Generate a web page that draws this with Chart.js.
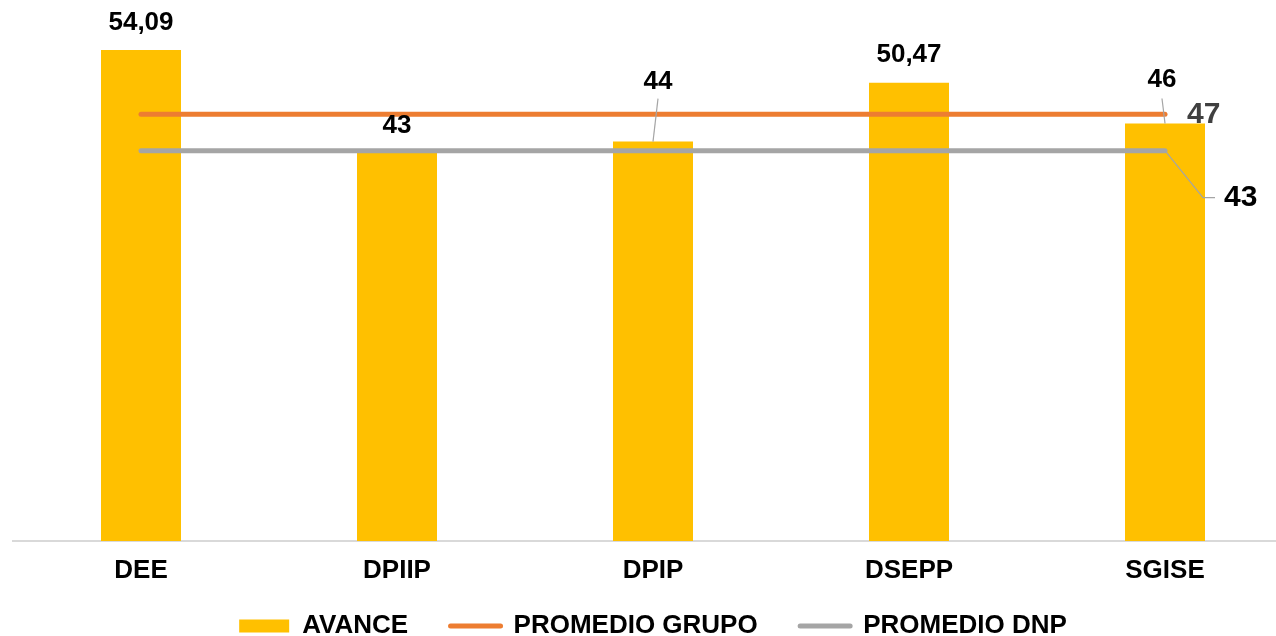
<!DOCTYPE html>
<html>
<head>
<meta charset="utf-8">
<script src="https://cdn.jsdelivr.net/npm/chart.js@4.4.1/dist/chart.umd.min.js"></script>
<style>
  html, body { margin: 0; padding: 0; background: #fff; overflow: hidden; }
  #wrap { width: 1300px; height: 649px; }
</style>
</head>
<body>
<div id="wrap"><canvas id="chart" width="1300" height="649"></canvas></div>
<script>
const categories = ['DEE', 'DPIIP', 'DPIP', 'DSEPP', 'SGISE'];
const avance = [54.09, 43, 44, 50.47, 46];
const promedioGrupo = [47, 47, 47, 47, 47];
const promedioDnp = [43, 43, 43, 43, 43];
const seriesNames = ['AVANCE', 'PROMEDIO GRUPO', 'PROMEDIO DNP'];

const YELLOW = '#FFC000';
const ORANGE = '#ED7D31';
const GRAY = '#A5A5A5';
const FONT = "'Liberation Sans', Arial, sans-serif";

// label offsets from the top of each bar, in px
const barLabelPos = [
    { dx: 0, dy: 27 },
    { dx: 0, dy: 25 },
    { dx: 5, dy: 60, leader: 17 },
    { dx: 0, dy: 28 },
    { dx: -3, dy: 44, leader: 19 }
];

const fmt = v => String(v).replace('.', ',');

// value labels above the bars, plus the two end labels of the average lines
const valueLabels = {
    id: 'valueLabels',
    afterDatasetsDraw(chart) {
        const ctx = chart.ctx;
        ctx.save();
        ctx.textAlign = 'center';
        ctx.textBaseline = 'middle';
        ctx.font = 'bold 26px ' + FONT;

        chart.getDatasetMeta(0).data.forEach((bar, i) => {
            const p = barLabelPos[i];
            const x = bar.x + p.dx;
            const y = bar.y - p.dy;
            if (p.leader) {
                ctx.strokeStyle = GRAY;
                ctx.lineWidth = 1.2;
                ctx.beginPath();
                ctx.moveTo(x, y + p.leader);
                ctx.lineTo(bar.x, bar.y);
                ctx.stroke();
            }
            ctx.fillStyle = '#000';
            ctx.fillText(fmt(avance[i]), x, y);
        });

        const last = categories.length - 1;
        ctx.textAlign = 'left';
        ctx.font = 'bold 30px ' + FONT;

        const g = chart.getDatasetMeta(1).data[last];
        ctx.fillStyle = '#404040';
        ctx.fillText(fmt(promedioGrupo[last]), g.x + 22, g.y);

        const d = chart.getDatasetMeta(2).data[last];
        ctx.strokeStyle = GRAY;
        ctx.lineWidth = 1.2;
        ctx.beginPath();
        ctx.moveTo(d.x, d.y);
        ctx.lineTo(d.x + 38, d.y + 47);
        ctx.lineTo(d.x + 50, d.y + 47);
        ctx.stroke();
        ctx.fillStyle = '#000';
        ctx.fillText(fmt(promedioDnp[last]), d.x + 59, d.y + 47);

        ctx.restore();
    }
};

new Chart(document.getElementById('chart'), {
    type: 'bar',
    data: {
        labels: categories,
        datasets: [
            {
                type: 'bar',
                label: seriesNames[0],
                data: avance,
                backgroundColor: YELLOW,
                borderWidth: 0,
                categoryPercentage: 1,
                barPercentage: 0.3125,
                order: 1
            },
            {
                type: 'line',
                label: seriesNames[1],
                data: promedioGrupo,
                borderColor: ORANGE,
                backgroundColor: ORANGE,
                borderWidth: 5,
                borderCapStyle: 'round',
                pointRadius: 0,
                order: 0
            },
            {
                type: 'line',
                label: seriesNames[2],
                data: promedioDnp,
                borderColor: GRAY,
                backgroundColor: GRAY,
                borderWidth: 5,
                borderCapStyle: 'round',
                pointRadius: 0,
                order: 0
            }
        ]
    },
    options: {
        responsive: false,
        animation: false,
        layout: { padding: { left: 13, right: 7, top: 0, bottom: 0 } },
        scales: {
            x: {
                grid: { display: false, drawTicks: true, tickLength: 16 },
                border: { display: true, color: '#D9D9D9', width: 2 },
                ticks: {
                    color: '#000',
                    padding: -1.6,
                    font: { family: FONT, size: 26, weight: 'bold' }
                }
            },
            y: { display: false, min: 0, max: 59.6 }
        },
        plugins: {
            tooltip: { enabled: false },
            legend: {
                position: 'bottom',
                labels: {
                    usePointStyle: true,
                    pointStyleWidth: 50,
                    boxHeight: 13,
                    padding: 28,
                    color: '#000',
                    font: { family: FONT, size: 26, weight: 'bold' },
                    generateLabels(chart) {
                        const items = Chart.defaults.plugins.legend.labels.generateLabels(chart)
                            .sort((a, b) => a.datasetIndex - b.datasetIndex);
                        items.forEach((it, i) => {
                            if (it.datasetIndex === 0) {
                                it.pointStyle = 'rect';
                                it.lineWidth = 0;
                            } else {
                                it.pointStyle = 'line';
                                it.lineWidth = 5;
                                it.lineCap = 'round';
                            }
                            // a little more air before the next entry
                            if (i < items.length - 1) it.text += '\u00A0\u00A0';
                        });
                        return items;
                    }
                }
            }
        }
    },
    plugins: [valueLabels]
});
</script>
</body>
</html>
